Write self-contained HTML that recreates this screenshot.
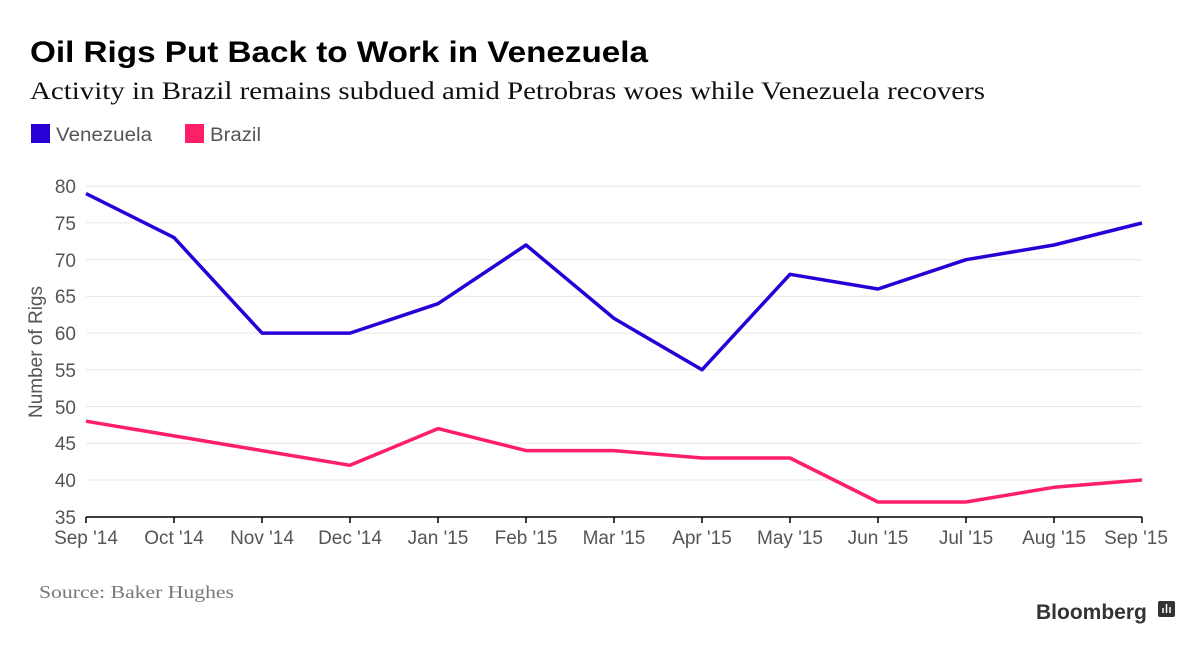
<!DOCTYPE html>
<html><head><meta charset="utf-8"><style>
body{margin:0;background:#fff;width:1200px;height:649px;overflow:hidden}
svg text{font-family:"Liberation Sans",sans-serif}
</style></head><body>
<svg width="1200" height="649" xmlns="http://www.w3.org/2000/svg">
<text x="30" y="62" font-size="30" font-weight="bold" fill="#000" textLength="618" lengthAdjust="spacingAndGlyphs">Oil Rigs Put Back to Work in Venezuela</text>
<text x="30" y="99" font-size="25" fill="#111" style="font-family:'Liberation Serif',serif" textLength="955" lengthAdjust="spacingAndGlyphs">Activity in Brazil remains subdued amid Petrobras woes while Venezuela recovers</text>
<rect x="31" y="124" width="19" height="19" fill="#2800d7"/>
<text x="56" y="141" font-size="19" fill="#555" textLength="96" lengthAdjust="spacingAndGlyphs">Venezuela</text>
<rect x="185" y="124" width="19" height="19" fill="#ff1f66"/>
<text x="210" y="141" font-size="19" fill="#555" textLength="51" lengthAdjust="spacingAndGlyphs">Brazil</text>
<g stroke="#e6e6e6" stroke-width="1">
<line x1="86" x2="1142" y1="186.2" y2="186.2"/><line x1="86" x2="1142" y1="222.9" y2="222.9"/>
<line x1="86" x2="1142" y1="259.7" y2="259.7"/><line x1="86" x2="1142" y1="296.4" y2="296.4"/>
<line x1="86" x2="1142" y1="333.1" y2="333.1"/><line x1="86" x2="1142" y1="369.8" y2="369.8"/>
<line x1="86" x2="1142" y1="406.5" y2="406.5"/><line x1="86" x2="1142" y1="443.2" y2="443.2"/>
<line x1="86" x2="1142" y1="480" y2="480"/>
</g>
<g font-size="19" fill="#555" text-anchor="end">
<text x="76" y="193">80</text><text x="76" y="230">75</text><text x="76" y="267">70</text>
<text x="76" y="303">65</text><text x="76" y="340">60</text><text x="76" y="377">55</text>
<text x="76" y="414">50</text><text x="76" y="450">45</text><text x="76" y="487">40</text>
<text x="76" y="524">35</text>
</g>
<text transform="translate(42,352) rotate(-90)" font-size="19" fill="#555" text-anchor="middle">Number of Rigs</text>
<line x1="86" x2="1142" y1="517" y2="517" stroke="#000" stroke-width="1.5"/>
<g stroke="#000" stroke-width="1.5">
<line x1="86" x2="86" y1="517" y2="523"/><line x1="174" x2="174" y1="517" y2="523"/><line x1="262" x2="262" y1="517" y2="523"/>
<line x1="350" x2="350" y1="517" y2="523"/><line x1="438" x2="438" y1="517" y2="523"/><line x1="526" x2="526" y1="517" y2="523"/>
<line x1="614" x2="614" y1="517" y2="523"/><line x1="702" x2="702" y1="517" y2="523"/><line x1="790" x2="790" y1="517" y2="523"/>
<line x1="878" x2="878" y1="517" y2="523"/><line x1="966" x2="966" y1="517" y2="523"/><line x1="1054" x2="1054" y1="517" y2="523"/>
<line x1="1142" x2="1142" y1="517" y2="523"/>
</g>
<g font-size="19" fill="#555" text-anchor="middle">
<text x="86" y="544">Sep '14</text><text x="174" y="544">Oct '14</text><text x="262" y="544">Nov '14</text>
<text x="350" y="544">Dec '14</text><text x="438" y="544">Jan '15</text><text x="526" y="544">Feb '15</text>
<text x="614" y="544">Mar '15</text><text x="702" y="544">Apr '15</text><text x="790" y="544">May '15</text>
<text x="878" y="544">Jun '15</text><text x="966" y="544">Jul '15</text><text x="1054" y="544">Aug '15</text>
<text x="1136" y="544">Sep '15</text>
</g>
<polyline fill="none" stroke="#2800d7" stroke-width="3.5" stroke-linejoin="round" points="86,193.6 174,237.6 262,333.1 350,333.1 438,303.7 526,245 614,318.4 702,369.8 790,274.3 878,289 966,259.7 1054,245 1142,223"/>
<polyline fill="none" stroke="#ff1f66" stroke-width="3.5" stroke-linejoin="round" points="86,421.2 174,435.9 262,450.6 350,465.3 438,428.6 526,450.6 614,450.6 702,458 790,458 878,502 966,502 1054,487.3 1142,480"/>
<text x="39" y="598" font-size="18" fill="#777" style="font-family:'Liberation Serif',serif" textLength="195" lengthAdjust="spacingAndGlyphs">Source: Baker Hughes</text>
<text x="1036" y="619" font-size="21" font-weight="bold" fill="#333">Bloomberg</text>
<rect x="1158" y="601" width="17" height="16" rx="2" fill="#333"/>
<g stroke="#fff" stroke-width="1.5"><line x1="1163" y1="613" x2="1163" y2="608"/><line x1="1166.5" y1="613" x2="1166.5" y2="604"/><line x1="1170" y1="613" x2="1170" y2="607"/></g>
</svg>
</body></html>
